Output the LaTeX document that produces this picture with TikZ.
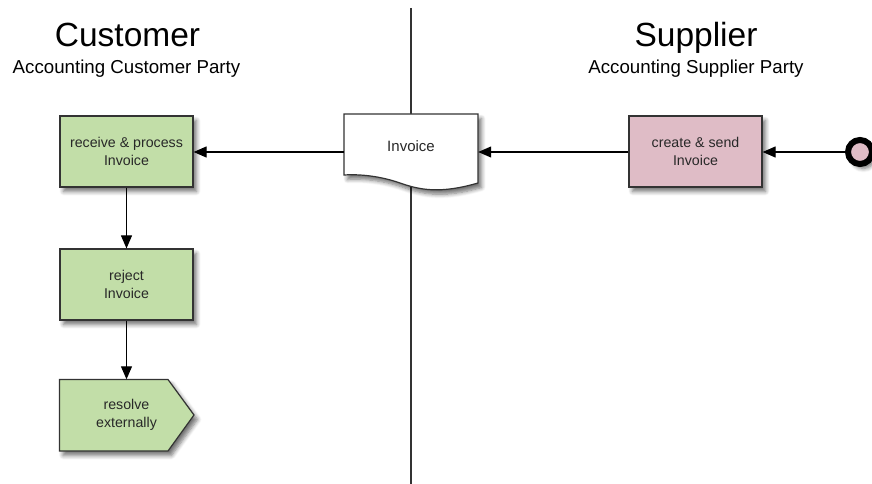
\documentclass[tikz,border=0pt]{standalone}
\usepackage{fontspec}
\setmainfont{Liberation Sans}
\usetikzlibrary{arrows.meta,shadows.blur}
\definecolor{boxgreen}{RGB}{194,222,168}
\definecolor{boxpink}{RGB}{223,188,198}
\definecolor{edge}{RGB}{51,51,51}
\definecolor{txt}{RGB}{40,40,40}
\tikzset{
  sh/.style={blur shadow={shadow blur steps=6,shadow xshift=3.5pt,shadow yshift=-4.5pt,shadow opacity=55,shadow blur radius=4pt}},
  task/.style={draw=edge,line width=1.2pt,minimum width=133pt,minimum height=71pt,inner sep=0pt,align=center,text=txt,font=\fontsize{14.2}{18}\selectfont,sh},
  plain/.style={draw=none,minimum width=133pt,minimum height=71pt,inner sep=0pt,align=center,text=txt,font=\fontsize{14.2}{18}\selectfont},
  flow/.style={draw=black,line width=1.1pt,-{Triangle[length=13pt,width=11pt]}},
  title/.style={font=\fontsize{33.5}{36}\selectfont,anchor=base,text=black,inner sep=0pt},
  subtitle/.style={font=\fontsize{18.7}{20}\selectfont,anchor=base,text=black,inner sep=0pt}
}
\begin{document}
\begin{tikzpicture}[x=1pt,y=-1pt]
\useasboundingbox (0,0) rectangle (872,484);
% lane divider
\draw[edge,line width=1.1pt] (411,8) -- (411,484);
% titles
\node[title] (cust) at (127.5,47) {Customer};
\node[subtitle] (custsub) at (126.5,74) {Accounting Customer Party};
\node[title] (supp) at (696,47) {Supplier};
\node[subtitle] (suppsub) at (696,74) {Accounting Supplier Party};
% tasks
\node[task,fill=boxgreen] (recv) at (126.5,151.5) {receive \& process\\Invoice};
\node[task,fill=boxgreen] (rej) at (126.5,284.5) {reject\\Invoice};
\node[task,fill=boxpink] (cs) at (695.5,151.5) {create \& send\\Invoice};
% resolve externally (pentagon)
\draw[draw=edge,line width=1.2pt,fill=boxgreen,sh] (59.5,379.5) -- (168,379.5) -- (194,415) -- (168,451) -- (59.5,451) -- cycle;
\node[plain] (res) at (126.5,415) {resolve\\externally};
% invoice document
\draw[draw=edge,line width=1.2pt,fill=white,sh] (344,114) -- (478,114) -- (478,183)
   .. controls (440,194) and (420,190) .. (400,183) .. controls (380,176) and (360,174) .. (344,175) -- cycle;
\node[plain,minimum width=134pt,minimum height=60pt,font=\fontsize{15}{18}\selectfont] (inv) at (411,146) {Invoice};
% start event
\node[circle,draw=black,line width=6pt,fill=boxpink,minimum size=24pt,inner sep=0pt,sh] (start) at (860,152) {};
% connectors
\draw[flow] (start.west) -- (cs.east |- start.west);
\draw[flow] (cs.west |- start.west) -- (inv.east |- start.west);
\draw[flow] (inv.west |- start.west) -- (recv.east |- start.west);
\draw[flow] (recv.south) -- (rej.north);
\draw[flow] (rej.south) -- (res.north);
\end{tikzpicture}
\end{document}
